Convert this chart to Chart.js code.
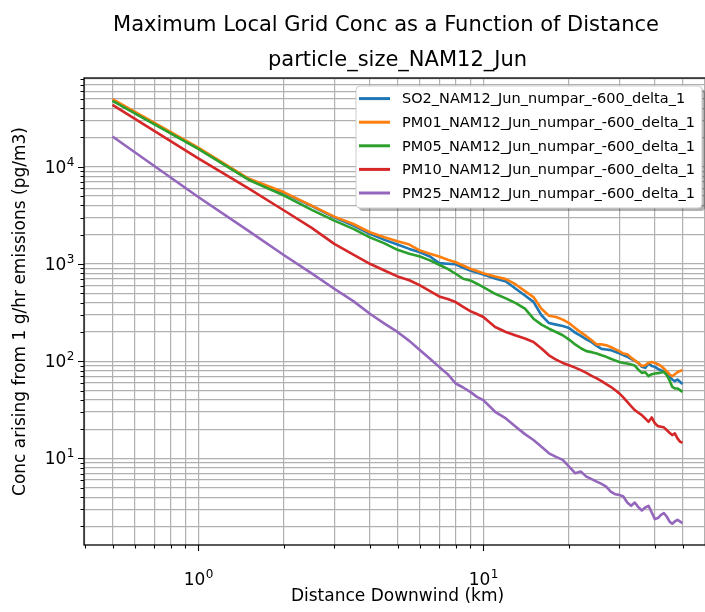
<!DOCTYPE html>
<html><head><meta charset="utf-8">
<script src="https://cdn.jsdelivr.net/npm/chart.js@4/dist/chart.umd.min.js"></script>
<style>
html,body{margin:0;padding:0;background:#fff;overflow:hidden;}
#wrap{position:relative;width:720px;height:612px;}
</style></head><body>
<div id="wrap"><canvas id="c" width="720" height="612"></canvas></div>
<script>
// ---------------- data ----------------
const distances = [0.5,1,1.5,2,2.5,3,3.5,4,4.5,5,5.5,6,6.5,7,7.5,8,8.5,9,9.5,10,
  11,12,13,14,15,16,17,18,19,20,21,22,23,24,25,26,27,28,29,30,
  31,32,33,34,35,36,37,38,39,40,41,42,43,44,45,46,47,48,49,50];

const so2 = [48600,15500,7470,5350,3950,3020,2480,2040,1770,1585,1430,1320,1195,1020,1005,993,915,857,818,780,
  710,661,556,475,408,297,247,238,230,220,197,182,168,157,144,134,132,130,125,121,
  116,111,106,101,96.1,87.5,85.5,94.6,89.5,87.5,83.4,80.9,78.3,75.9,70.2,64.9,62.4,64.9,61.4,58.1];

const pm01 = [49500,15700,7570,5460,3980,3070,2580,2120,1880,1710,1585,1375,1275,1195,1104,1043,964,893,848,805,
  745,699,616,526,457,347,294,285,268,247,220,198,181,164,149,149,146,140,133,127,
  120,118,109,102,96.1,89.5,91,96.1,98.4,96.1,93.1,89.5,84.1,78.9,73.6,70.2,73.6,77.1,79.5,80.9];

const pm05 = [47500,15300,7360,5050,3600,2790,2300,1880,1630,1400,1275,1195,1090,982,892,794,705,678,627,578,
  494,443,396,347,274,238,216,200,185,167,149,136,127,124,120,115,111,106,102,98.4,
  96.1,94.6,92.3,90.2,82,75.9,77.1,70.2,73.6,74.8,75.4,76.6,77.6,71.8,63.8,54.5,52.5,52.5,50.5,48.4];

const pm10 = [43300,12200,5990,3550,2350,1610,1250,1005,857,745,681,602,526,464,436,406,362,328,306,285,
  225,200,184,171,158,135,115,104,96,91,86,80.9,75.9,70.6,66.5,62.4,58.1,54.6,50.5,46.7,
  42.5,38.3,34.6,31.5,29.5,27.9,25.8,23.8,26.4,23.0,21.5,21.2,20.9,19.6,18.4,17.4,18.1,16.1,14.9,14.5];

const pm25 = [20500,4890,2190,1230,800,557,415,308,244,200,162,130,106,87.5,73.6,59,53.7,48.4,43,39.8,
  30.2,25.8,21.2,17.8,15.5,13.2,11.3,10.4,9.66,8.24,7.05,7.33,6.5,6.12,5.78,5.47,5.14,4.57,4.29,4.22,
  4.06,3.52,3.26,3.52,3.16,2.92,3.13,3.26,2.78,2.38,2.44,2.63,2.74,2.53,2.25,2.13,2.25,2.34,2.25,2.16];

const seriesLabels = ['SO2_NAM12_Jun_numpar_-600_delta_1','PM01_NAM12_Jun_numpar_-600_delta_1',
  'PM05_NAM12_Jun_numpar_-600_delta_1','PM10_NAM12_Jun_numpar_-600_delta_1','PM25_NAM12_Jun_numpar_-600_delta_1'];
const seriesValues = [so2, pm01, pm05, pm10, pm25];
const seriesColors = ['#1f77b4','#ff7f0e','#2ca02c','#d62728','#9467bd'];

const titleText = 'Maximum Local Grid Conc as a Function of Distance';
const subtitleText = 'particle_size_NAM12_Jun';
const xLabel = 'Distance Downwind (km)';
const yLabel = 'Conc arising from 1 g/hr emissions (pg/m3)';

// tick labels (base and exponent for 10^n)
const xMajorTicks = [1, 10];
const xTickLabels = [['10','0'],['10','1']];
const yMajorTicks = [10, 100, 1000, 10000];
const yTickLabels = [['10','1'],['10','2'],['10','3'],['10','4']];

// ---------------- helpers ----------------
const FONT = "'DejaVu Sans', sans-serif";
function logLimits(vals){
  const lo = Math.log10(Math.min(...vals)), hi = Math.log10(Math.max(...vals));
  const m = (hi - lo) * 0.05;
  return [Math.pow(10, lo - m), Math.pow(10, hi + m)];
}
const [xMin, xMax] = logLimits(distances);
const [yMin, yMax] = logLimits([].concat(...seriesValues));

function logTickValues(min, max){
  const out = [];
  for (let e = Math.floor(Math.log10(min)); e <= Math.ceil(Math.log10(max)); e++){
    for (let s = 1; s <= 9; s++){
      const v = s * Math.pow(10, e);
      if (v >= min && v <= max) out.push({value: v, major: s === 1});
    }
  }
  return out;
}

const deco = {
  id: 'deco',
  afterDraw(chart){
    const ctx = chart.ctx, a = chart.chartArea;
    const xs = chart.scales.x, ys = chart.scales.y;
    ctx.save();
    // spines
    ctx.strokeStyle = '#000'; ctx.lineWidth = 1.3;
    ctx.strokeRect(a.left, a.top, a.right - a.left, a.bottom - a.top);
    // tick marks
    ctx.lineWidth = 1.1;
    ctx.beginPath();
    xs.ticks.forEach(t => {
      const p = Math.round(xs.getPixelForValue(t.value)) + 0.5;
      ctx.moveTo(p, a.bottom); ctx.lineTo(p, a.bottom + (t.major ? 6 : 3.5));
    });
    ys.ticks.forEach(t => {
      const p = Math.round(ys.getPixelForValue(t.value)) + 0.5;
      ctx.moveTo(a.left, p); ctx.lineTo(a.left - (t.major ? 6 : 3.5), p);
    });
    ctx.stroke();
    // tick labels
    ctx.fillStyle = '#000';
    const baseF = '17px ' + FONT, expF = '12px ' + FONT;
    function measure(lbl){
      ctx.font = baseF; const w1 = ctx.measureText(lbl[0]).width;
      ctx.font = expF; const w2 = ctx.measureText(lbl[1]).width;
      return [w1, w2];
    }
    function drawLbl(lbl, xLeft, yBase){
      const [w1] = measure(lbl);
      ctx.textAlign = 'left'; ctx.textBaseline = 'alphabetic';
      ctx.font = baseF; ctx.fillText(lbl[0], xLeft, yBase);
      ctx.font = expF; ctx.fillText(lbl[1], xLeft + w1 + 0.5, yBase - 7);
    }
    xMajorTicks.forEach((v, i) => {
      const p = xs.getPixelForValue(v); const [w1, w2] = measure(xTickLabels[i]);
      drawLbl(xTickLabels[i], p - (w1 + w2) / 2, 585);
    });
    yMajorTicks.forEach((v, i) => {
      const p = ys.getPixelForValue(v); const [w1, w2] = measure(yTickLabels[i]);
      drawLbl(yTickLabels[i], a.left - 10 - (w1 + w2), p + 6);
    });
    // titles
    ctx.textAlign = 'center'; ctx.textBaseline = 'middle';
    ctx.font = '21px ' + FONT;
    ctx.fillText(titleText, 386, 26);
    ctx.fillText(subtitleText, (a.left + a.right) / 2, 61);
    // legend
    const lw = 346, lh = 122, lx = a.right - 9 - lw, ly = a.top + 8;
    function rr(x, y, w, h, r){
      ctx.beginPath(); ctx.moveTo(x + r, y); ctx.lineTo(x + w - r, y); ctx.quadraticCurveTo(x + w, y, x + w, y + r);
      ctx.lineTo(x + w, y + h - r); ctx.quadraticCurveTo(x + w, y + h, x + w - r, y + h);
      ctx.lineTo(x + r, y + h); ctx.quadraticCurveTo(x, y + h, x, y + h - r);
      ctx.lineTo(x, y + r); ctx.quadraticCurveTo(x, y, x + r, y); ctx.closePath();
    }
    ctx.fillStyle = 'rgba(0,0,0,0.3)'; rr(lx + 3, ly + 3, lw, lh, 4); ctx.fill();
    ctx.fillStyle = '#fff'; rr(lx, ly, lw, lh, 4); ctx.fill();
    ctx.strokeStyle = '#cccccc'; ctx.lineWidth = 1; ctx.stroke();
    ctx.font = '14.5px ' + FONT; ctx.textAlign = 'left'; ctx.textBaseline = 'middle';
    seriesLabels.forEach((lab, i) => {
      const y = ly + 12.6 + i * 23.6;
      ctx.strokeStyle = seriesColors[i]; ctx.lineWidth = 3;
      ctx.beginPath(); ctx.moveTo(lx + 3, y); ctx.lineTo(lx + 34, y); ctx.stroke();
      ctx.fillStyle = '#000'; ctx.fillText(lab, lx + 46, y + 1);
    });
    ctx.restore();
  }
};

const datasets = seriesValues.map((vals, i) => ({
  label: seriesLabels[i],
  data: distances.map((d, j) => ({x: d, y: vals[j]})),
  borderColor: seriesColors[i],
  backgroundColor: seriesColors[i],
  borderWidth: 2.6,
  pointRadius: 0,
  tension: 0,
  fill: false,
  borderJoinStyle: 'round',
  order: seriesValues.length - i
}));

new Chart(document.getElementById('c'), {
  type: 'line',
  data: { datasets },
  options: {
    responsive: false, animation: false, devicePixelRatio: 1,
    layout: { padding: { left: 0, right: 9, top: 78, bottom: 0 } },
    plugins: { legend: { display: false }, tooltip: { enabled: false }, title: { display: false } },
    scales: {
      x: {
        type: 'logarithmic', min: xMin, max: xMax,
        afterBuildTicks: s => { s.ticks = logTickValues(xMin, xMax); },
        afterFit: s => { s.height = 67; },
        grid: { color: '#b0b0b0', lineWidth: 1.2, drawTicks: false },
        border: { display: false },
        ticks: { display: false },
        title: { display: true, text: xLabel, color: '#000', font: { family: FONT, size: 17 }, padding: { top: 0, bottom: 5 } }
      },
      y: {
        type: 'logarithmic', min: yMin, max: yMax,
        afterBuildTicks: s => { s.ticks = logTickValues(yMin, yMax); },
        afterFit: s => { s.width = 84; },
        grid: { color: '#b0b0b0', lineWidth: 1.2, drawTicks: false },
        border: { display: false },
        ticks: { display: false },
        title: { display: true, text: yLabel, color: '#000', font: { family: FONT, size: 17 }, padding: { top: 10, bottom: 0 } }
      }
    }
  },
  plugins: [deco]
});
</script>
</body></html>
